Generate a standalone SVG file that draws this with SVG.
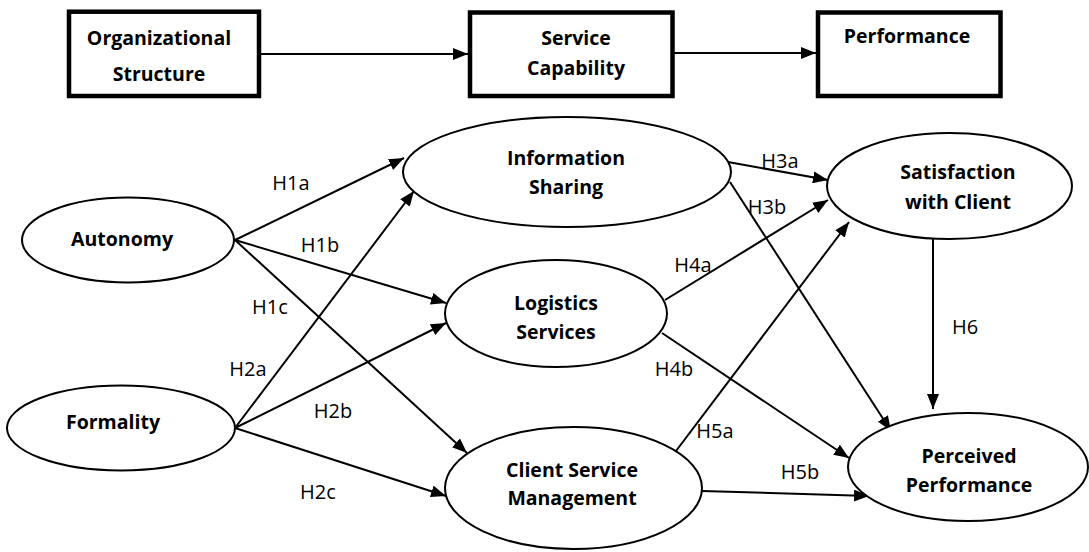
<svg xmlns="http://www.w3.org/2000/svg" width="1089" height="552" viewBox="0 0 1089 552">
  <style>
    .box { fill: #fff; stroke: #000; stroke-width: 4.5; }
    .node { fill: #fff; stroke: #000; stroke-width: 2; }
    .title { font-family: "Open Sans", "Liberation Sans", sans-serif; font-weight: 700; font-size: 19.5px; fill: #000; text-anchor: middle; }
    .lbl { font-family: "Open Sans", "Liberation Sans", sans-serif; font-size: 20px; fill: #000; text-anchor: middle; }
    .edge { fill: none; stroke: #000; stroke-width: 2; marker-end: url(#arrow); }
  </style>
  <defs>
    <marker id="arrow" markerUnits="userSpaceOnUse" markerWidth="16" markerHeight="12" refX="15" refY="6" orient="auto">
      <path d="M0,0 L15,6 L0,12 z" fill="#000"/>
    </marker>
  </defs>
  <rect width="1089" height="552" fill="#fff"/>

  <!-- top row: structure, capability, performance -->
  <g id="top-connectors">
    <line class="edge" x1="261" y1="54" x2="468" y2="54"/>
    <line class="edge" x1="674" y1="53" x2="816" y2="53"/>
  </g>
  <g id="box-structure">
    <rect class="box" x="69" y="11.7" width="190" height="84.3"/>
    <text class="title" x="159" y="45">Organizational</text>
    <text class="title" x="159" y="81">Structure</text>
  </g>
  <g id="box-capability">
    <rect class="box" x="470" y="12.5" width="202.5" height="83.5"/>
    <text class="title" x="576" y="45">Service</text>
    <text class="title" x="576" y="75">Capability</text>
  </g>
  <g id="box-performance">
    <rect class="box" x="818" y="12.5" width="182.5" height="83.5"/>
    <text class="title" x="907" y="43">Performance</text>
  </g>

  <!-- hypothesis paths -->
  <g id="connectors">
    <line class="edge" x1="235" y1="240" x2="404" y2="158"/>
    <line class="edge" x1="235" y1="240" x2="446" y2="303"/>
    <line class="edge" x1="235" y1="240" x2="467" y2="453"/>
    <line class="edge" x1="235" y1="428" x2="414" y2="191"/>
    <line class="edge" x1="235" y1="428" x2="446" y2="323"/>
    <line class="edge" x1="235" y1="428" x2="446" y2="496"/>
    <line class="edge" x1="728" y1="162" x2="828" y2="180"/>
    <line class="edge" x1="730" y1="182" x2="891" y2="431"/>
    <line class="edge" x1="665" y1="300" x2="828" y2="200"/>
    <line class="edge" x1="662" y1="333" x2="849" y2="458"/>
    <line class="edge" x1="676" y1="451" x2="849" y2="222"/>
    <line class="edge" x1="702" y1="491" x2="869" y2="496"/>
    <line class="edge" x1="933" y1="239" x2="933" y2="409"/>
  </g>

  <g id="labels">
    <text class="lbl" x="291" y="190">H1a</text>
    <text class="lbl" x="320" y="252">H1b</text>
    <text class="lbl" x="270" y="314">H1c</text>
    <text class="lbl" x="248" y="376">H2a</text>
    <text class="lbl" x="333" y="418">H2b</text>
    <text class="lbl" x="318" y="499">H2c</text>
    <text class="lbl" x="780" y="168">H3a</text>
    <text class="lbl" x="767" y="214">H3b</text>
    <text class="lbl" x="693" y="272">H4a</text>
    <text class="lbl" x="674" y="376">H4b</text>
    <text class="lbl" x="715" y="438">H5a</text>
    <text class="lbl" x="800" y="479">H5b</text>
    <text class="lbl" x="965" y="334">H6</text>
  </g>

  <g id="node-autonomy">
    <ellipse class="node" cx="128" cy="240" rx="106" ry="42.5"/>
    <text class="title" x="122" y="246">Autonomy</text>
  </g>
  <g id="node-formality">
    <ellipse class="node" cx="121" cy="428" rx="114" ry="42.5"/>
    <text class="title" x="113" y="429">Formality</text>
  </g>
  <g id="node-information-sharing">
    <ellipse class="node" cx="567" cy="172" rx="164" ry="55"/>
    <text class="title" x="566" y="165">Information</text>
    <text class="title" x="566" y="194">Sharing</text>
  </g>
  <g id="node-logistics-services">
    <ellipse class="node" cx="556" cy="313.5" rx="111" ry="53.5"/>
    <text class="title" x="556" y="310">Logistics</text>
    <text class="title" x="556" y="339">Services</text>
  </g>
  <g id="node-client-service">
    <ellipse class="node" cx="573.5" cy="488" rx="128.5" ry="61"/>
    <text class="title" x="572" y="477">Client Service</text>
    <text class="title" x="572" y="505">Management</text>
  </g>
  <g id="node-satisfaction">
    <ellipse class="node" cx="949.5" cy="186" rx="122.5" ry="53"/>
    <text class="title" x="958" y="179">Satisfaction</text>
    <text class="title" x="958" y="209">with Client</text>
  </g>
  <g id="node-perceived-performance">
    <ellipse class="node" cx="968" cy="467" rx="120" ry="54"/>
    <text class="title" x="969" y="463">Perceived</text>
    <text class="title" x="969" y="492">Performance</text>
  </g>
</svg>
